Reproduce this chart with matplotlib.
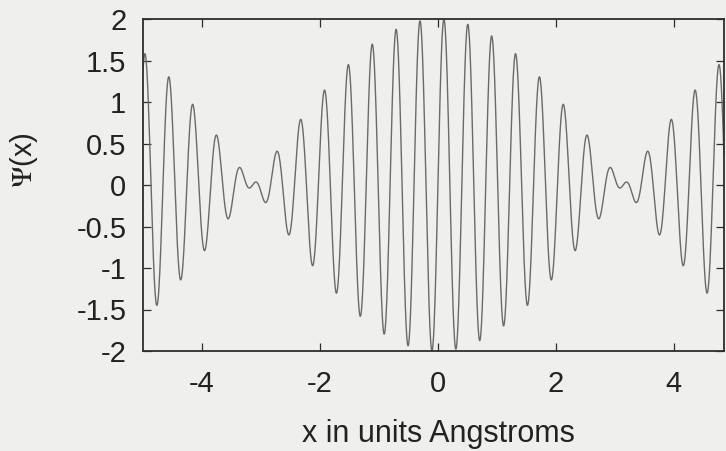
import matplotlib
matplotlib.use("Agg")
import matplotlib.pyplot as plt
import numpy as np

# two plane waves (nodes at +-pi, carrier ~15.5 1/A)
wave_numbers = [15.0, 16.0]
amplitudes = [1.0, 1.0]
x_range = [-5.0, 4.85]

x_ticks = [-4, -2, 0, 2, 4]
x_ticklabels = ["-4", "-2", "0", "2", "4"]
y_ticks = [-2, -1.5, -1, -0.5, 0, 0.5, 1, 1.5, 2]
y_ticklabels = ["-2", "-1.5", "-1", "-0.5", "0", "0.5", "1", "1.5", "2"]

plt.rcParams["font.family"] = ["Liberation Sans", "DejaVu Sans"]
plt.rcParams["mathtext.fontset"] = "stix"
plt.rcParams["axes.unicode_minus"] = False

paper = "#efefed"
ink = "#2e2e2e"

x = np.linspace(x_range[0], x_range[1], 3000)
psi = np.zeros_like(x)
for a, k in zip(amplitudes, wave_numbers):
    psi += a * np.sin(k * x)

fig = plt.figure(figsize=(7.26, 4.51), dpi=100, facecolor=paper)
ax = fig.add_axes([143 / 726, 1 - 351 / 451, 581 / 726, 332 / 451])
ax.set_facecolor(paper)

ax.plot(x, psi, color="#6a6a6a", lw=1.0)

ax.set_xlim(*x_range)
ax.set_ylim(-2, 2)
ax.set_xticks(x_ticks)
ax.set_xticklabels(x_ticklabels)
ax.set_yticks(y_ticks)
ax.set_yticklabels(y_ticklabels)

ax.tick_params(axis="both", direction="in", length=6, width=0.9, color=ink,
               labelsize=21, labelcolor="#222222", top=True, right=True)
ax.tick_params(axis="x", pad=14)
ax.tick_params(axis="y", pad=12)
for s in ax.spines.values():
    s.set_color(ink)
    s.set_linewidth(1.3)

ax.set_xlabel("x in units Angstroms", fontsize=22, color="#222222")
ax.xaxis.set_label_coords(0.508, -0.205)
ax.set_ylabel(r"$\mathrm{\Psi}$(x)", fontsize=21, color="#222222")
ax.yaxis.set_label_coords(-0.178, 0.574)

fig.savefig("out.png", dpi=100, facecolor=paper)
